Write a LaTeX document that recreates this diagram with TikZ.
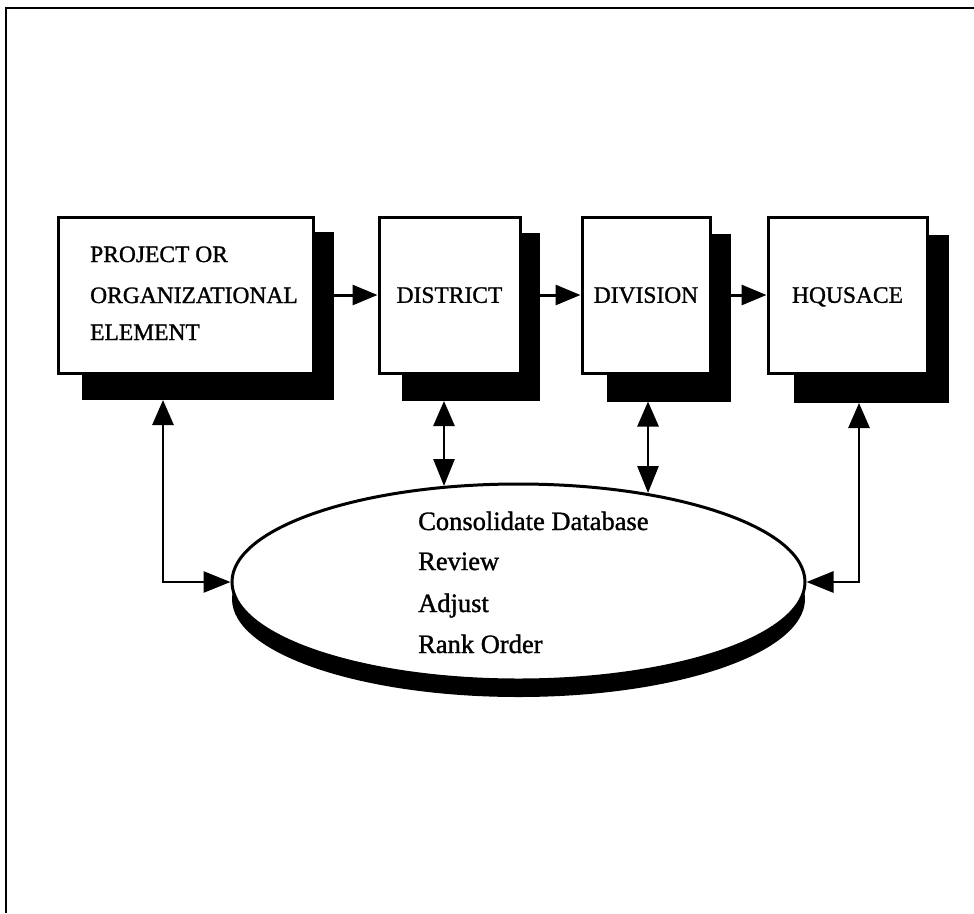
\documentclass[tikz,border=0pt]{standalone}
\usepackage{fontspec}
\setmainfont{Liberation Serif}[FakeBold=1.2]
\usetikzlibrary{arrows.meta,shapes.geometric}
\begin{document}
\begin{tikzpicture}[x=1pt,y=-1pt,
  box/.style={draw,line width=3pt,fill=white,inner sep=0pt,minimum height=156pt},
  shade/.style={fill=black,inner sep=0pt,outer sep=0pt,minimum height=168pt},
  boxlabel/.style={font=\fontsize{23.5}{28}\selectfont,text depth=0pt},
  boxtext/.style={font=\fontsize{23.5}{28}\selectfont,anchor=base west,inner sep=0pt},
  dblabel/.style={font=\fontsize{26.5}{30}\selectfont,anchor=base west,inner sep=0pt},
  oval/.style={ellipse,inner sep=0pt,minimum width=573pt,minimum height=196pt},
  flow/.style={line width=3pt,-{Triangle[length=25pt,width=20pt]}},
  link/.style={line width=2.8pt,{Triangle[length=25pt,width=21pt]}-{Triangle[length=27pt,width=21pt]}},
]
\useasboundingbox (0,0) rectangle (974,913);

% open frame: top and left rules
\draw[line width=2pt] (6,913) -- (6,8) -- (974,8);

% drop shadows of the four boxes
\node[shade,minimum width=252pt] (s1) at (208,316) {};
\node[shade,minimum width=138pt] (s2) at (471,317) {};
\node[shade,minimum width=124pt] (s3) at (669,317.5) {};
\node[shade,minimum width=155pt] (s4) at (871.5,319) {};

% boxes
\node[box,minimum width=255pt] (b1) at (185.5,295) {};
\node[box,minimum width=141pt,boxlabel] (b2) at (449.5,295) {DISTRICT};
\node[box,minimum width=128pt,boxlabel] (b3) at (646,295) {DIVISION};
\node[box,minimum width=159pt,boxlabel] (b4) at (847.5,295) {HQUSACE};

\node[boxtext] (p1) at (90,262) {PROJECT OR};
\node[boxtext] (p2) at (90,303) {ORGANIZATIONAL};
\node[boxtext] (p3) at (90,340) {ELEMENT};

% chain of arrows
\draw[flow] (s1.east |- b2.west) -- (b2.west);
\draw[flow] (s2.east |- b3.west) -- (b3.west);
\draw[flow] (s3.east |- b4.west) -- (b4.west);

% database ellipse with its shadow
\node[oval,fill=black] (dbs) at (518.5,599) {};
\node[oval,draw,line width=3pt,fill=white] (db) at (518.5,582) {};

\node[dblabel] (t1) at (418,530) {Consolidate Database};
\node[dblabel] (t2) at (418,570) {Review};
\node[dblabel] (t3) at (418,612) {Adjust};
\node[dblabel] (t4) at (418,653) {Rank Order};

% two-way links between boxes and the ellipse
\coordinate (c1) at (163,582);
\coordinate (e2) at (444,486);
\coordinate (e3) at (648,493);
\coordinate (c4) at (859,582);

\draw[link] (s1.south -| c1) -- (c1) -- (db.west);
\draw[link] (s2.south -| e2) -- (e2);
\draw[link] (s3.south -| e3) -- (e3);
\draw[link] (s4.south -| c4) -- (c4) -- (db.east);
\end{tikzpicture}
\end{document}
